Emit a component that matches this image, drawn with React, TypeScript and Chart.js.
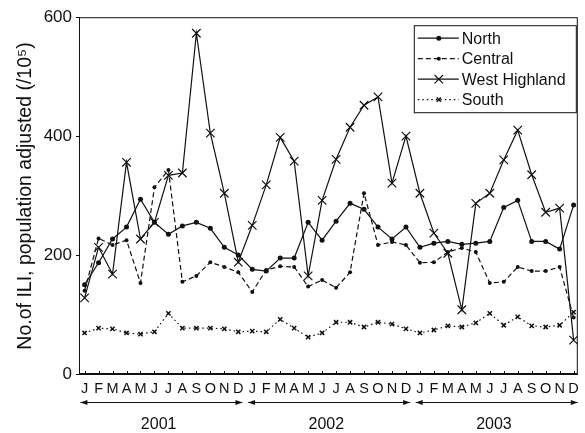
import React, { useEffect, useRef } from "react";
import { Chart, registerables } from "chart.js";

Chart.register(...registerables);

const monthLabels = [
  "J", "F", "M", "A", "M", "J", "J", "A", "S", "O", "N", "D",
  "J", "F", "M", "A", "M", "J", "J", "A", "S", "O", "N", "D",
  "J", "F", "M", "A", "M", "J", "J", "A", "S", "O", "N", "D",
];
const yearLabels = ["2001", "2002", "2003"];
const yTicks = [0, 200, 400, 600];

const north = [
  150, 187, 227, 247, 294, 255, 235, 249, 255, 245, 213, 200,
  176, 173, 195, 195, 255, 225, 257, 287, 277, 247, 227, 247,
  213, 220, 223, 218, 220, 223, 280, 292, 223, 223, 210, 284,
];
const central = [
  140, 228, 217, 225, 153, 314, 343, 155, 165, 188, 180, 171,
  138, 175, 181, 180, 147, 158, 145, 171, 304, 217, 222, 217,
  187, 188, 205, 212, 205, 153, 155, 180, 173, 173, 180, 95,
];
const westHighland = [
  128, 213, 168, 356, 227, 255, 334, 338, 573, 405, 304, 188,
  250, 318, 398, 358, 165, 292, 361, 415, 452, 466, 321, 400,
  304, 237, 203, 108, 287, 304, 360, 410, 335, 272, 279, 57,
];
const south = [
  69, 77, 76, 69, 67, 71, 102, 77, 77, 77, 76, 71,
  72, 71, 92, 77, 62, 69, 87, 87, 79, 87, 84, 76,
  69, 74, 81, 79, 86, 102, 82, 96, 81, 79, 82, 104,
];
const seriesNames = ["North", "Central", "West Highland", "South"];

const FONT = "'Liberation Sans', Arial, sans-serif";
const INK = "#111";

function drawMarker(ctx: CanvasRenderingContext2D, kind: number, x: number, y: number) {
  ctx.save();
  ctx.setLineDash([]);
  ctx.strokeStyle = INK;
  ctx.fillStyle = INK;
  if (kind === 0) {
    ctx.beginPath();
    ctx.arc(x, y, 2.5, 0, Math.PI * 2);
    ctx.fill();
  } else if (kind === 1) {
    ctx.beginPath();
    ctx.arc(x, y, 2, 0, Math.PI * 2);
    ctx.fill();
  } else if (kind === 2) {
    const r = 6 * Math.SQRT1_2;
    ctx.lineWidth = 1.2;
    ctx.beginPath();
    ctx.moveTo(x - r, y - r);
    ctx.lineTo(x + r, y + r);
    ctx.moveTo(x + r, y - r);
    ctx.lineTo(x - r, y + r);
    ctx.stroke();
  } else {
    const r = 3 * Math.SQRT1_2;
    ctx.lineWidth = 1.5;
    ctx.beginPath();
    ctx.moveTo(x - r, y - r);
    ctx.lineTo(x + r, y + r);
    ctx.moveTo(x + r, y - r);
    ctx.lineTo(x - r, y + r);
    ctx.stroke();
  }
  ctx.restore();
}

export default function App() {
  const ref = useRef<HTMLCanvasElement>(null);

  useEffect(() => {
    if (!ref.current) return;
    const toPts = (arr: number[]) => arr.map((v, i) => ({ x: i, y: v }));
    const dashes = [[], [5, 3], [], [1.5, 3]];

    const deco = {
      id: "deco",
      afterDraw(chart: any) {
        const { ctx, chartArea: a, scales } = chart;
        const xs = scales.x;
        const ys = scales.y;
        ctx.save();
        ctx.strokeStyle = INK;
        ctx.lineWidth = 1;
        // frame
        ctx.strokeRect(a.left + 0.5, a.top + 0.5, a.right - a.left - 1, a.bottom - a.top - 1);
        // ticks
        ctx.beginPath();
        monthLabels.forEach((_, i) => {
          const px = Math.round(xs.getPixelForValue(i)) + 0.5;
          ctx.moveTo(px, a.bottom);
          ctx.lineTo(px, a.bottom - 3);
        });
        yTicks.forEach((t) => {
          const py = Math.round(ys.getPixelForValue(t)) + 0.5;
          ctx.moveTo(a.left - 3, py);
          ctx.lineTo(a.left, py);
        });
        ctx.stroke();

        // year arrows + labels
        const ay = a.bottom + 28.5;
        yearLabels.forEach((yl, k) => {
          const x0 = xs.getPixelForValue(12 * k - 0.3);
          const x1 = Math.min(xs.getPixelForValue(12 * k + 11.3), chart.width - 1);
          ctx.lineWidth = 1;
          ctx.beginPath();
          ctx.moveTo(x0, ay);
          ctx.lineTo(x1, ay);
          ctx.stroke();
          ctx.beginPath();
          ctx.moveTo(x0, ay);
          ctx.lineTo(x0 + 7, ay - 2.5);
          ctx.lineTo(x0 + 7, ay + 2.5);
          ctx.closePath();
          ctx.moveTo(x1, ay);
          ctx.lineTo(x1 - 7, ay - 2.5);
          ctx.lineTo(x1 - 7, ay + 2.5);
          ctx.closePath();
          ctx.fillStyle = INK;
          ctx.fill();
          ctx.font = `16px ${FONT}`;
          ctx.textAlign = "center";
          ctx.textBaseline = "middle";
          ctx.fillText(yl, xs.getPixelForValue(12 * k + 5.3), a.bottom + 51);
        });

        // y title
        ctx.save();
        ctx.translate(31, 196);
        ctx.rotate(-Math.PI / 2);
        ctx.font = `19.5px ${FONT}`;
        ctx.textAlign = "center";
        ctx.textBaseline = "alphabetic";
        ctx.fillStyle = INK;
        ctx.fillText("No.of ILI, population adjusted (/10\u2075)", 0, 0);
        ctx.restore();

        // legend
        const bx = a.right - 164;
        const by = a.top + 8;
        ctx.fillStyle = "#fff";
        ctx.fillRect(bx, by, 162, 87);
        ctx.lineWidth = 1;
        ctx.strokeRect(bx + 0.5, by + 0.5, 162, 87);
        seriesNames.forEach((name, i) => {
          const ry = by + 13 + i * 20.5;
          ctx.save();
          ctx.lineWidth = 1.2;
          ctx.setLineDash(dashes[i] as number[]);
          ctx.beginPath();
          ctx.moveTo(bx + 4, ry);
          ctx.lineTo(bx + 45, ry);
          ctx.stroke();
          ctx.restore();
          drawMarker(ctx, i, bx + 25, ry);
          ctx.font = `16px ${FONT}`;
          ctx.textAlign = "left";
          ctx.textBaseline = "middle";
          ctx.fillStyle = INK;
          ctx.fillText(name, bx + 48, ry + 1);
        });
        ctx.restore();
      },
    };

    const chart = new Chart(ref.current, {
      type: "line",
      data: {
        datasets: [
          {
            label: seriesNames[0],
            data: toPts(north),
            borderColor: INK,
            borderWidth: 1.2,
            pointStyle: "circle",
            pointRadius: 2.5,
            pointBackgroundColor: INK,
            pointBorderColor: INK,
            pointBorderWidth: 0,
            tension: 0,
          },
          {
            label: seriesNames[1],
            data: toPts(central),
            borderColor: INK,
            borderWidth: 1.2,
            borderDash: [5, 3],
            pointStyle: "circle",
            pointRadius: 2,
            pointBackgroundColor: INK,
            pointBorderColor: INK,
            pointBorderWidth: 0,
            tension: 0,
          },
          {
            label: seriesNames[2],
            data: toPts(westHighland),
            borderColor: INK,
            borderWidth: 1.2,
            pointStyle: "crossRot",
            pointRadius: 6,
            pointBorderColor: INK,
            pointBorderWidth: 1.2,
            tension: 0,
          },
          {
            label: seriesNames[3],
            data: toPts(south),
            borderColor: INK,
            borderWidth: 1.2,
            borderDash: [1.5, 3],
            pointStyle: "crossRot",
            pointRadius: 3,
            pointBorderColor: INK,
            pointBorderWidth: 1.5,
            tension: 0,
          },
        ],
      },
      options: {
        responsive: false,
        animation: false,
        devicePixelRatio: 1,
        layout: { padding: { top: 17, right: 1, left: 0, bottom: 0 } },
        plugins: { legend: { display: false }, tooltip: { enabled: false } },
        scales: {
          x: {
            type: "linear",
            min: -0.4,
            max: 35.3,
            afterFit: (s: any) => {
              s.height = 59;
            },
            afterBuildTicks: (s: any) => {
              s.ticks = monthLabels.map((_, i) => ({ value: i }));
            },
            grid: { display: false, drawTicks: false },
            border: { display: true, color: INK },
            ticks: {
              autoSkip: false,
              maxRotation: 0,
              padding: 6,
              color: INK,
              font: { family: FONT, size: 14.5 },
              callback: (v: any) => monthLabels[Number(v)] ?? "",
            },
          },
          y: {
            min: 0,
            max: 600,
            afterFit: (s: any) => {
              s.width = 79;
            },
            afterBuildTicks: (s: any) => {
              s.ticks = yTicks.map((t) => ({ value: t }));
            },
            grid: { display: false, drawTicks: false },
            border: { display: true, color: INK },
            ticks: {
              padding: 7,
              color: INK,
              font: { family: FONT, size: 17 },
            },
          },
        },
      },
      plugins: [deco],
    } as any);

    return () => chart.destroy();
  }, []);

  return (
    <div style={{ position: "fixed", left: 0, top: 0, width: 585, height: 433, background: "#fff" }}>
      <canvas ref={ref} width={585} height={433} />
    </div>
  );
}
